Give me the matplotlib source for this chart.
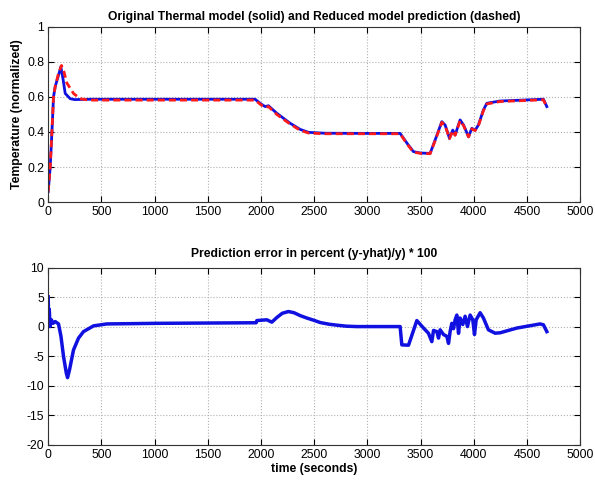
import numpy as np
import matplotlib.pyplot as plt

plt.rcParams['font.family'] = ['Liberation Sans', 'DejaVu Sans']
plt.rcParams['axes.unicode_minus'] = False

# thermal model (solid blue)
t_model = [0, 19, 35, 50, 66, 95, 119, 140, 160, 207, 250, 400, 1000, 1945, 2000, 2040,
           2070, 2149, 2274, 2368, 2447, 2600, 3000, 3308, 3380, 3433, 3500, 3590, 3637,
           3700, 3731, 3772, 3803, 3825, 3872, 3904, 3951, 3982, 4013, 4044, 4091, 4123,
           4248, 4499, 4655, 4687]
y_model = [0.06, 0.2, 0.4, 0.6, 0.66, 0.72, 0.772, 0.70, 0.62, 0.59, 0.585, 0.587, 0.587,
           0.587, 0.56, 0.545, 0.55, 0.507, 0.45, 0.415, 0.398, 0.393, 0.392, 0.392, 0.33,
           0.288, 0.28, 0.278, 0.354, 0.459, 0.44, 0.364, 0.411, 0.383, 0.469, 0.44, 0.373,
           0.421, 0.41, 0.44, 0.526, 0.564, 0.577, 0.583, 0.587, 0.545]

# reduced model prediction (dashed red)
t_pred = [0, 19, 35, 50, 66, 95, 125, 150, 175, 238, 300, 380, 1000, 1945, 2000, 2040,
          2070, 2149, 2274, 2368, 2447, 2600, 3000, 3308, 3380, 3433, 3500, 3590, 3637,
          3700, 3731, 3772, 3803, 3825, 3872, 3904, 3951, 3982, 4013, 4044, 4091, 4123,
          4248, 4499, 4655, 4687]
y_pred = [0.06, 0.2, 0.4, 0.6, 0.66, 0.73, 0.78, 0.74, 0.68, 0.62, 0.59, 0.582, 0.582,
          0.582, 0.555, 0.54, 0.545, 0.5, 0.445, 0.41, 0.394, 0.39, 0.39, 0.39, 0.326,
          0.285, 0.278, 0.276, 0.35, 0.455, 0.436, 0.362, 0.408, 0.381, 0.465, 0.437, 0.372,
          0.418, 0.408, 0.436, 0.522, 0.56, 0.574, 0.58, 0.584, 0.542]

# prediction error in percent
t_err = [0, 3, 10, 17, 30, 45, 66, 97, 120, 144, 170, 182, 200, 238, 285, 332, 426, 551,
         1021, 1955, 1961, 2055, 2102, 2150, 2200, 2258, 2310, 2370, 2431, 2500, 2556, 2640,
         2713, 2800, 2901, 3308, 3324, 3387, 3465, 3528,
         3574, 3606, 3622, 3653, 3669, 3684, 3716, 3747, 3763, 3778, 3794, 3810, 3825,
         3841, 3857, 3872, 3897, 3919, 3941, 3966, 3991, 4007, 4023, 4060, 4091, 4138,
         4201, 4248, 4405, 4624, 4655, 4687]
e_err = [5.1, 2.0, 3.0, 0.05, 1.2, 0.6, 0.9, 0.5, -1.6, -5.0, -7.8, -8.6, -7.3, -3.9, -1.9,
         -0.8, 0.17, 0.5, 0.6, 0.7, 1.07, 1.2, 0.8, 1.6, 2.3, 2.6, 2.4, 1.9, 1.5, 1.1, 0.74,
         0.45, 0.29, 0.12, 0.05, 0.05, -3.05, -3.1, 1.07,
         -0.2, -1.07, -2.5, -0.6, -0.8, -1.9, -0.5, -1.3, -1.6, -2.8, -0.8, 0.6, -0.3, 1.2,
         2.0, -1.1, 1.5, 0.4, 1.8, 0.05, 2.0, 1.2, -1.3, 1.2, 2.4, 1.5, -0.5, -1.07, -1.0,
         -0.2, 0.5, 0.35, -0.8]

fig = plt.figure(figsize=(5.95, 4.8), dpi=100)
ax1 = fig.add_axes([0.081, 0.579, 0.894, 0.365])
ax2 = fig.add_axes([0.081, 0.073, 0.894, 0.369])

ax1.plot(t_model, y_model, color='#1010e0', linewidth=2)
ax1.plot(t_pred, y_pred, color='#ff1a1a', linewidth=2, linestyle=(0, (2.5, 1.5)))
ax1.set_xlim(0, 5000)
ax1.set_ylim(0, 1)
ax1.set_yticks([0, 0.2, 0.4, 0.6, 0.8, 1])
ax1.set_yticklabels(['0', '0.2', '0.4', '0.6', '0.8', '1'])
ax1.set_ylabel('Temperature (normalized)', fontsize=8.8, fontweight='bold', labelpad=3)
ax1.set_title('Original Thermal model (solid) and Reduced model prediction (dashed)',
              fontsize=8.7, fontweight='bold', pad=5)

ax2.plot(t_err, e_err, color='#1010e0', linewidth=2.5)
ax2.set_xlim(0, 5000)
ax2.set_ylim(-20, 10)
ax2.set_yticks([-20, -15, -10, -5, 0, 5, 10])
ax2.set_xlabel('time (seconds)', fontsize=8.8, fontweight='bold', labelpad=1)
ax2.set_title('Prediction error in percent (y-yhat)/y) * 100',
              fontsize=8.7, fontweight='bold', pad=8)

for ax in (ax1, ax2):
    ax.set_xticks(np.arange(0, 5001, 500))
    ax.grid(True, linestyle=':', color='#b0b0b0', linewidth=0.8)
    ax.tick_params(direction='in', top=True, right=True, labelsize=8.8, length=4, pad=3)
    for s in ax.spines.values():
        s.set_color('#333333')
        s.set_linewidth(0.8)

fig.savefig('out.png', dpi=100)
